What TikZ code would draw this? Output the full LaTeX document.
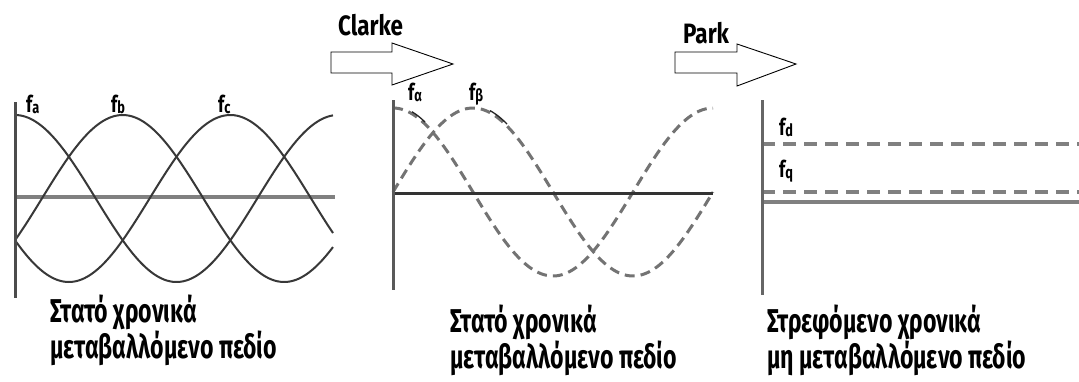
\documentclass[tikz,border=0pt]{standalone}
\usepackage{fontspec}
\setmainfont{Fira Sans}
\newfontfamily\capfont{Fira Sans}[FakeStretch=0.70]
\newfontfamily\ttlfont{Fira Sans}[FakeStretch=0.8]
\newfontfamily\labfont{Fira Sans}[FakeStretch=0.75]
\newcommand{\sbs}[1]{\raisebox{-1pt}{\fontsize{17}{17}\selectfont #1}}
\begin{document}
\begin{tikzpicture}[x=1pt,y=-1pt,
  wave/.style={draw=black!78,line width=2pt},
  axisA/.style={draw=black!50,line width=4pt},
  axisB/.style={draw=black!80,line width=3pt},
  dwave/.style={draw=black!55,line width=3pt,dash pattern=on 10pt off 6pt},
  dline/.style={draw=black!50,line width=3.5pt,dash pattern=on 13pt off 8pt},
  blockarrow/.style={draw=black,line width=0.9pt,fill=white},
  leader/.style={draw=black!85,line width=1.3pt},
  lab/.style={inner sep=0pt,anchor=base west,font=\labfont\bfseries\fontsize{23}{23}\selectfont},
  captxt/.style={inner sep=0pt,anchor=base west,align=left,font=\capfont\bfseries\fontsize{33}{28}\selectfont},
  ttl/.style={inner sep=0pt,anchor=base west,font=\ttlfont\bfseries\fontsize{28}{28}\selectfont}]
\useasboundingbox[fill=white] (0,0) rectangle (1079,381);

% ---------- panel 1 ----------
\draw[axisA] (15,197) -- (335,197);
\draw[wave] plot[domain=15:333,samples=120] (\x,{198.5-83.5*cos((\x-15)*1.11455)});
\draw[wave] plot[domain=15:333,samples=120] (\x,{198.5-83.5*cos((\x-15)*1.11455-120)});
\draw[wave] plot[domain=15:333,samples=120] (\x,{198.5-83.5*cos((\x-15)*1.11455+120)});
\draw[draw=black!70,line width=3pt] (15,102) -- (15,298);
\node[lab] (fa) at (26,112) {f\sbs{a}};
\node[lab] (fb) at (111,112) {f\sbs{b}};
\node[lab] (fc) at (218,112) {f\sbs{c}};
\node[captxt] (t1) at (50,358) {Στατό χρονικά\\μεταβαλλόμενο πεδίο};

% ---------- panel 2 ----------
\draw[dwave] plot[domain=393:713,samples=120] (\x,{192-84*cos((\x-393)*1.125)});
\draw[dwave] plot[domain=393:713,samples=120] (\x,{192-84*sin((\x-393)*1.125)});
\draw[leader] plot[domain=412:425,samples=10] (\x,{190-84*cos((\x-393)*1.125)});
\draw[leader] plot[domain=490:507,samples=10] (\x,{190-84*sin((\x-393)*1.125)});
\draw[axisB] (393,193) -- (713,193);
\draw[draw=black!65,line width=3pt] (393,100) -- (393,290);
\node[lab] (falpha) at (408,100) {f\sbs{α}};
\node[lab] (fbeta) at (469,100) {f\sbs{β}};
\node[captxt] (t2) at (450,368) {Στατό χρονικά\\μεταβαλλόμενο πεδίο};

% ---------- panel 3 ----------
\draw[dline] (762,144) -- (1079,144);
\draw[dline] (762,192) -- (1079,192);
\draw[draw=black!50,line width=4pt] (762,202) -- (1079,202);
\draw[draw=black!60,line width=3pt] (762,100) -- (762,295);
\node[lab] (fd) at (779,135) {f\sbs{d}};
\node[lab] (fq) at (779,177) {f\sbs{q}};
\node[captxt] (t3) at (767,368) {Στρεφόμενο χρονικά\\μη μεταβαλλόμενο πεδίο};

% ---------- transform arrows ----------
\node[ttl] (clarke) at (338,35) {Clarke};
\draw[blockarrow] (331,52) -- (392,52) -- (392,43) -- (453,64) -- (392,85) -- (392,73) -- (331,73) -- cycle;
\node[ttl] (park) at (683,43) {Park};
\draw[blockarrow] (675,52) -- (737,52) -- (737,44) -- (796,64) -- (737,86) -- (737,73) -- (675,73) -- cycle;
\end{tikzpicture}
\end{document}
